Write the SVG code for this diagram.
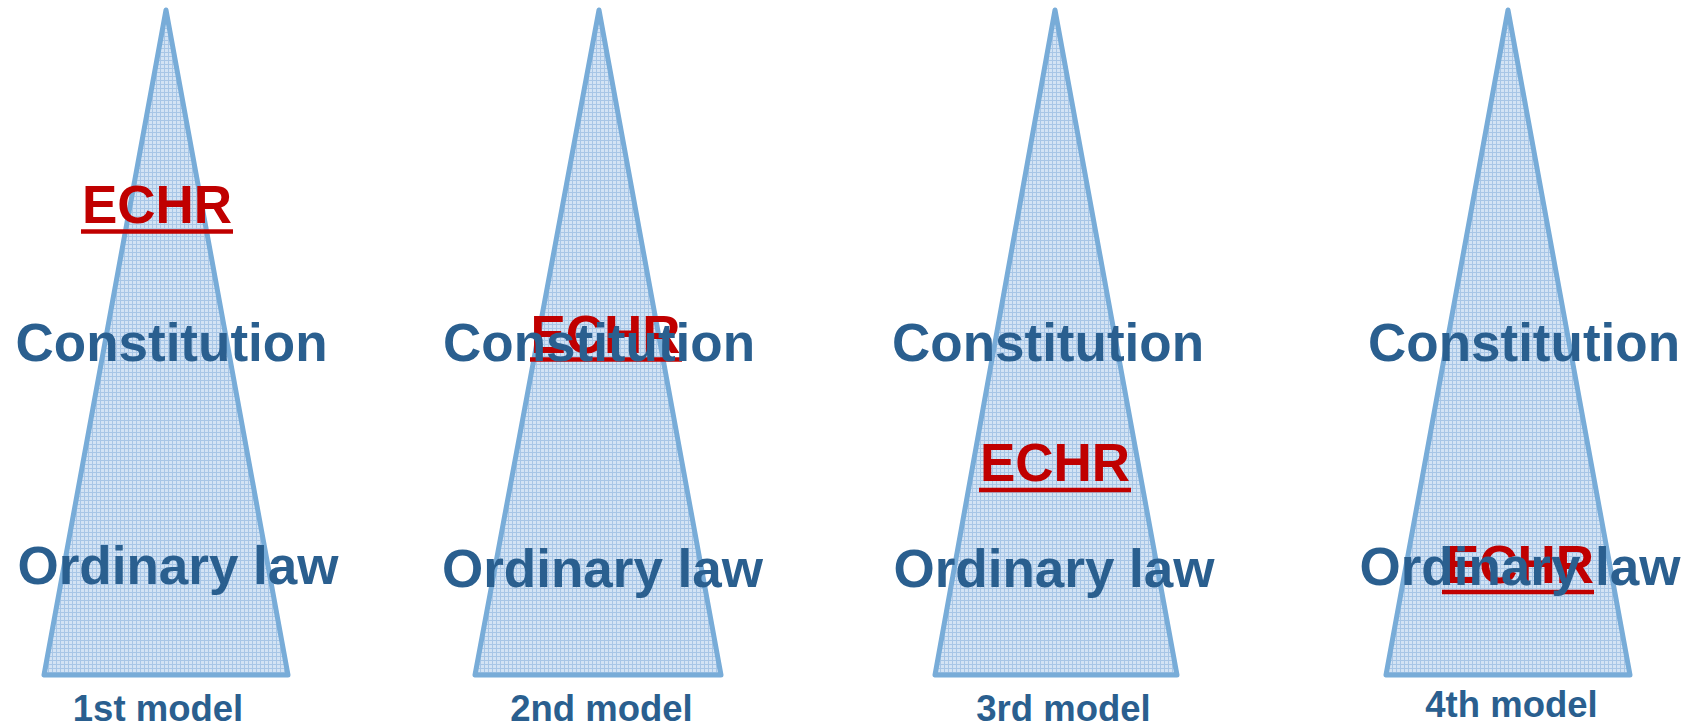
<svg xmlns="http://www.w3.org/2000/svg" width="1697" height="726" viewBox="0 0 1697 726">
  <defs>
    <pattern id="grid" width="4" height="4" patternUnits="userSpaceOnUse">
      <rect width="4" height="4" fill="#d3e3f4"/>
      <path d="M0 0.5H4M0.5 0V4" stroke="#a8c6e6" stroke-width="1"/>
    </pattern>
  </defs>
  <style>
    .tri { fill: url(#grid); stroke: #78acd8; stroke-width: 5; stroke-linejoin: round; }
    .lvl { font-family: "Liberation Sans", Arial, sans-serif; font-weight: bold; font-size: 53px; fill: #2a5f8f; text-anchor: middle; }
    .echr { font-family: "Liberation Sans", Arial, sans-serif; font-weight: bold; font-size: 53px; fill: #c00000; text-anchor: middle; }
    .ul { stroke: #c00000; stroke-width: 4.5; }
    .lab { font-family: "Liberation Sans", Arial, sans-serif; font-weight: bold; font-size: 36.5px; fill: #2a5f8f; text-anchor: middle; }
  </style>
  <rect width="1697" height="726" fill="#ffffff"/>

  <g id="model1">
    <polygon class="tri" points="166,10 44,675 288,675"/>
    <text class="echr" x="157" y="223">ECHR</text>
    <line class="ul" x1="81" y1="231.5" x2="233" y2="231.5"/>
    <text class="lvl" x="171.5" y="361">Constitution</text>
    <text class="lvl" x="178" y="584">Ordinary law</text>
    <text class="lab" x="158" y="721">1st model</text>
  </g>

  <g id="model2">
    <polygon class="tri" points="599,10 475,675 721,675"/>
    <text class="echr" x="605.5" y="353">ECHR</text>
    <line class="ul" x1="530" y1="359.5" x2="682" y2="359.5"/>
    <text class="lvl" x="599" y="361">Constitution</text>
    <text class="lvl" x="602.5" y="587">Ordinary law</text>
    <text class="lab" x="601.5" y="721">2nd model</text>
  </g>

  <g id="model3">
    <polygon class="tri" points="1055,10 935,675 1177,675"/>
    <text class="lvl" x="1048" y="361">Constitution</text>
    <text class="echr" x="1055" y="481">ECHR</text>
    <line class="ul" x1="979" y1="490" x2="1131" y2="490"/>
    <text class="lvl" x="1054" y="587">Ordinary law</text>
    <text class="lab" x="1063.5" y="721">3rd model</text>
  </g>

  <g id="model4">
    <polygon class="tri" points="1508,10 1386,675 1630,675"/>
    <text class="lvl" x="1524" y="361">Constitution</text>
    <text class="echr" x="1519" y="583">ECHR</text>
    <line class="ul" x1="1442" y1="592" x2="1594" y2="592"/>
    <text class="lvl" x="1520" y="585">Ordinary law</text>
    <text class="lab" x="1511.5" y="717">4th model</text>
  </g>
</svg>
